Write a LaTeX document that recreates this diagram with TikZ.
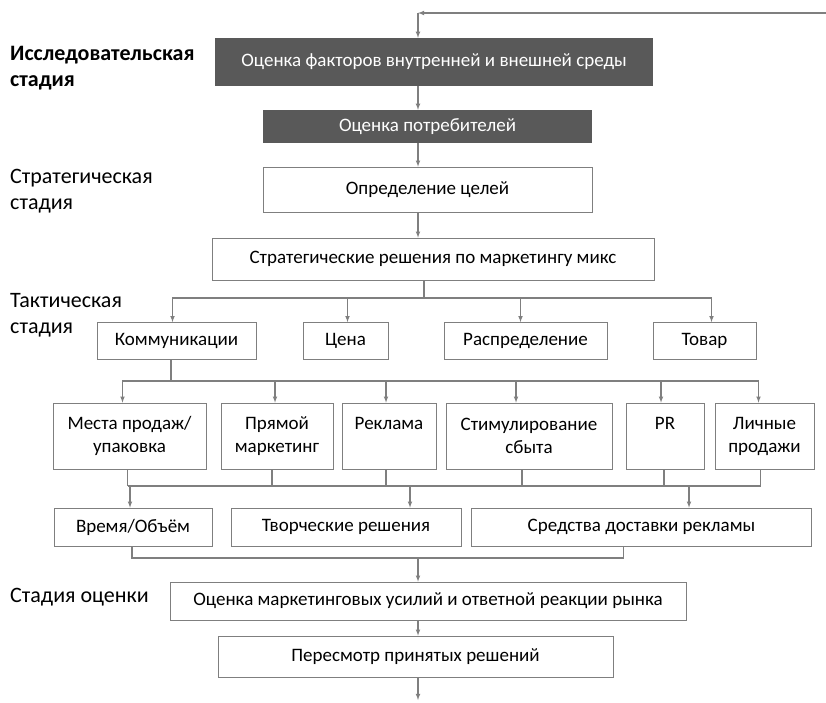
\documentclass[tikz,border=0pt]{standalone}
\usepackage{fontspec}
\setmainfont{Carlito}
\usetikzlibrary{positioning}
\definecolor{darkfill}{HTML}{595959}
\definecolor{linegray}{HTML}{7F7F7F}

\begin{document}
\begin{tikzpicture}[x=1pt,y=-1pt,
    box/.style={draw=linegray,line width=0.8pt,fill=white,inner sep=2pt,align=center,font=\fontsize{19}{23}\selectfont},
    darkbox/.style={fill=darkfill,text=white,inner sep=2pt,font=\fontsize{19}{23}\selectfont},
    stage/.style={anchor=north west,align=left,inner sep=0pt,font=\fontsize{22}{26}\selectfont},
    link/.style={draw=linegray,line width=1.1pt},
    arr/.style={link,-latex}]
  \useasboundingbox (0,0) rectangle (826,702);
  % stages
  \node[stage,font=\fontsize{22}{26}\selectfont\bfseries] (s1) at (10,46) {Исследовательская\\стадия};
  \node[stage] (s2) at (10,169) {Стратегическая\\стадия};
  \node[stage] (s3) at (10,293) {Тактическая\\стадия};
  \node[stage] (s4) at (10,588) {Стадия оценки};
  % main column
  \node[darkbox,minimum width=438pt,minimum height=48pt] (B1) at (434,62) {Оценка факторов внутренней и внешней среды\\[-4pt]};
  \node[darkbox,minimum width=329pt,minimum height=33pt] (B2) at (427.5,126.5) {Оценка потребителей};
  \node[box,minimum width=329pt,minimum height=45pt] (B3) at (427.5,189.5) {Определение целей};
  \node[box,minimum width=442pt,minimum height=42pt] (B4) at (433,259) {Стратегические решения по маркетингу микс};
  \coordinate (fb) at (418,13);
  \coordinate (ret) at (826,13);
  \draw[arr] (ret) -- (fb);
  \draw[arr] (fb) -- (fb |- B1.north);
  \draw[arr] (B1.south -| fb) -- (B2.north -| fb);
  \draw[arr] (B2.south -| fb) -- (B3.north -| fb);
  \draw[arr] (B3.south -| fb) -- (B4.north -| fb);
  % marketing mix
  \foreach \name/\cx/\w/\txt in {kom/176.5/159pt/Коммуникации,cena/345.5/85pt/Цена,
      rasp/525.5/163pt/Распределение,tov/704.5/103pt/Товар} {
    \node[box,minimum width=\w,minimum height=37pt] (\name) at (\cx,341) {\txt};
  }
  \coordinate (split1) at (424,298);
  \draw[link] (B4.south -| split1) -- (split1);
  \foreach \name/\dx in {kom/-4,cena/2,rasp/-5,tov/7}
    \draw[arr] (split1) -| ([xshift=\dx pt]\name.north);
  % communications
  \foreach \name/\cx/\w/\txt in {mesta/129.5/153pt/{Места продаж/\\упаковка},pryam/277/112pt/{Прямой\\маркетинг},
      rekl/389/94pt/{Реклама\\\vphantom{упаковка}},stim/529/166pt/{Стимулирование\\сбыта},
      pr/665/78pt/{PR\\\vphantom{упаковка}},lich/764.5/99pt/{Личные\\продажи}} {
    \node[box,minimum width=\w,minimum height=66pt] (\name) at (\cx,436) {\txt};
  }
  \coordinate (split2) at (171,381);
  \draw[link] (kom.south -| split2) -- (split2);
  \foreach \name/\dx in {mesta/-7,pryam/-2,rekl/-3,stim/-13,pr/-4,lich/-6}
    \draw[arr] (split2) -| ([xshift=\dx pt]\name.north);
  % media decisions
  \foreach \name/\cx/\w/\txt in {vrem/133/158pt/{Время/Объём},tvor/346/230pt/{Творческие решения},
      sred/641.5/340pt/{Средства доставки рекламы}} {
    \node[box,minimum width=\w,minimum height=38pt] (\name) at (\cx,527) {\txt};
  }
  \coordinate (join1) at (410,486);
  \foreach \name/\dx in {mesta/-2,pryam/-5,rekl/-3,stim/-7,pr/-1,lich/-4}
    \draw[link] ([xshift=\dx pt]\name.south) -- ([xshift=\dx pt]\name.south |- join1);
  \draw[link] ([xshift=-2pt]mesta.south |- join1) -- ([xshift=-4pt]lich.south |- join1);
  \coordinate (j1) at (130,486);
  \coordinate (j3) at (689,486);
  \draw[arr] (j1) -- (j1 |- vrem.north);
  \draw[arr] (join1) -- (join1 |- tvor.north);
  \draw[arr] (j3) -- (j3 |- sred.north);
  % evaluation
  \node[box,minimum width=516pt,minimum height=38pt] (eval) at (428,601) {Оценка маркетинговых усилий и ответной реакции рынка};
  \node[box,minimum width=395pt,minimum height=41pt] (rev) at (415.5,656.5) {Пересмотр принятых решений};
  \coordinate (join2) at (418,558);
  \draw[link] ([xshift=-1pt]vrem.south) |- (join2);
  \draw[link] ([xshift=-18pt]sred.south) |- (join2);
  \draw[arr] (join2) -- (join2 |- eval.north);
  \draw[arr] (eval.south -| fb) -- (rev.north -| fb);
  \coordinate (out) at (418,700);
  \draw[arr] (rev.south -| out) -- (out);
\end{tikzpicture}
\end{document}
